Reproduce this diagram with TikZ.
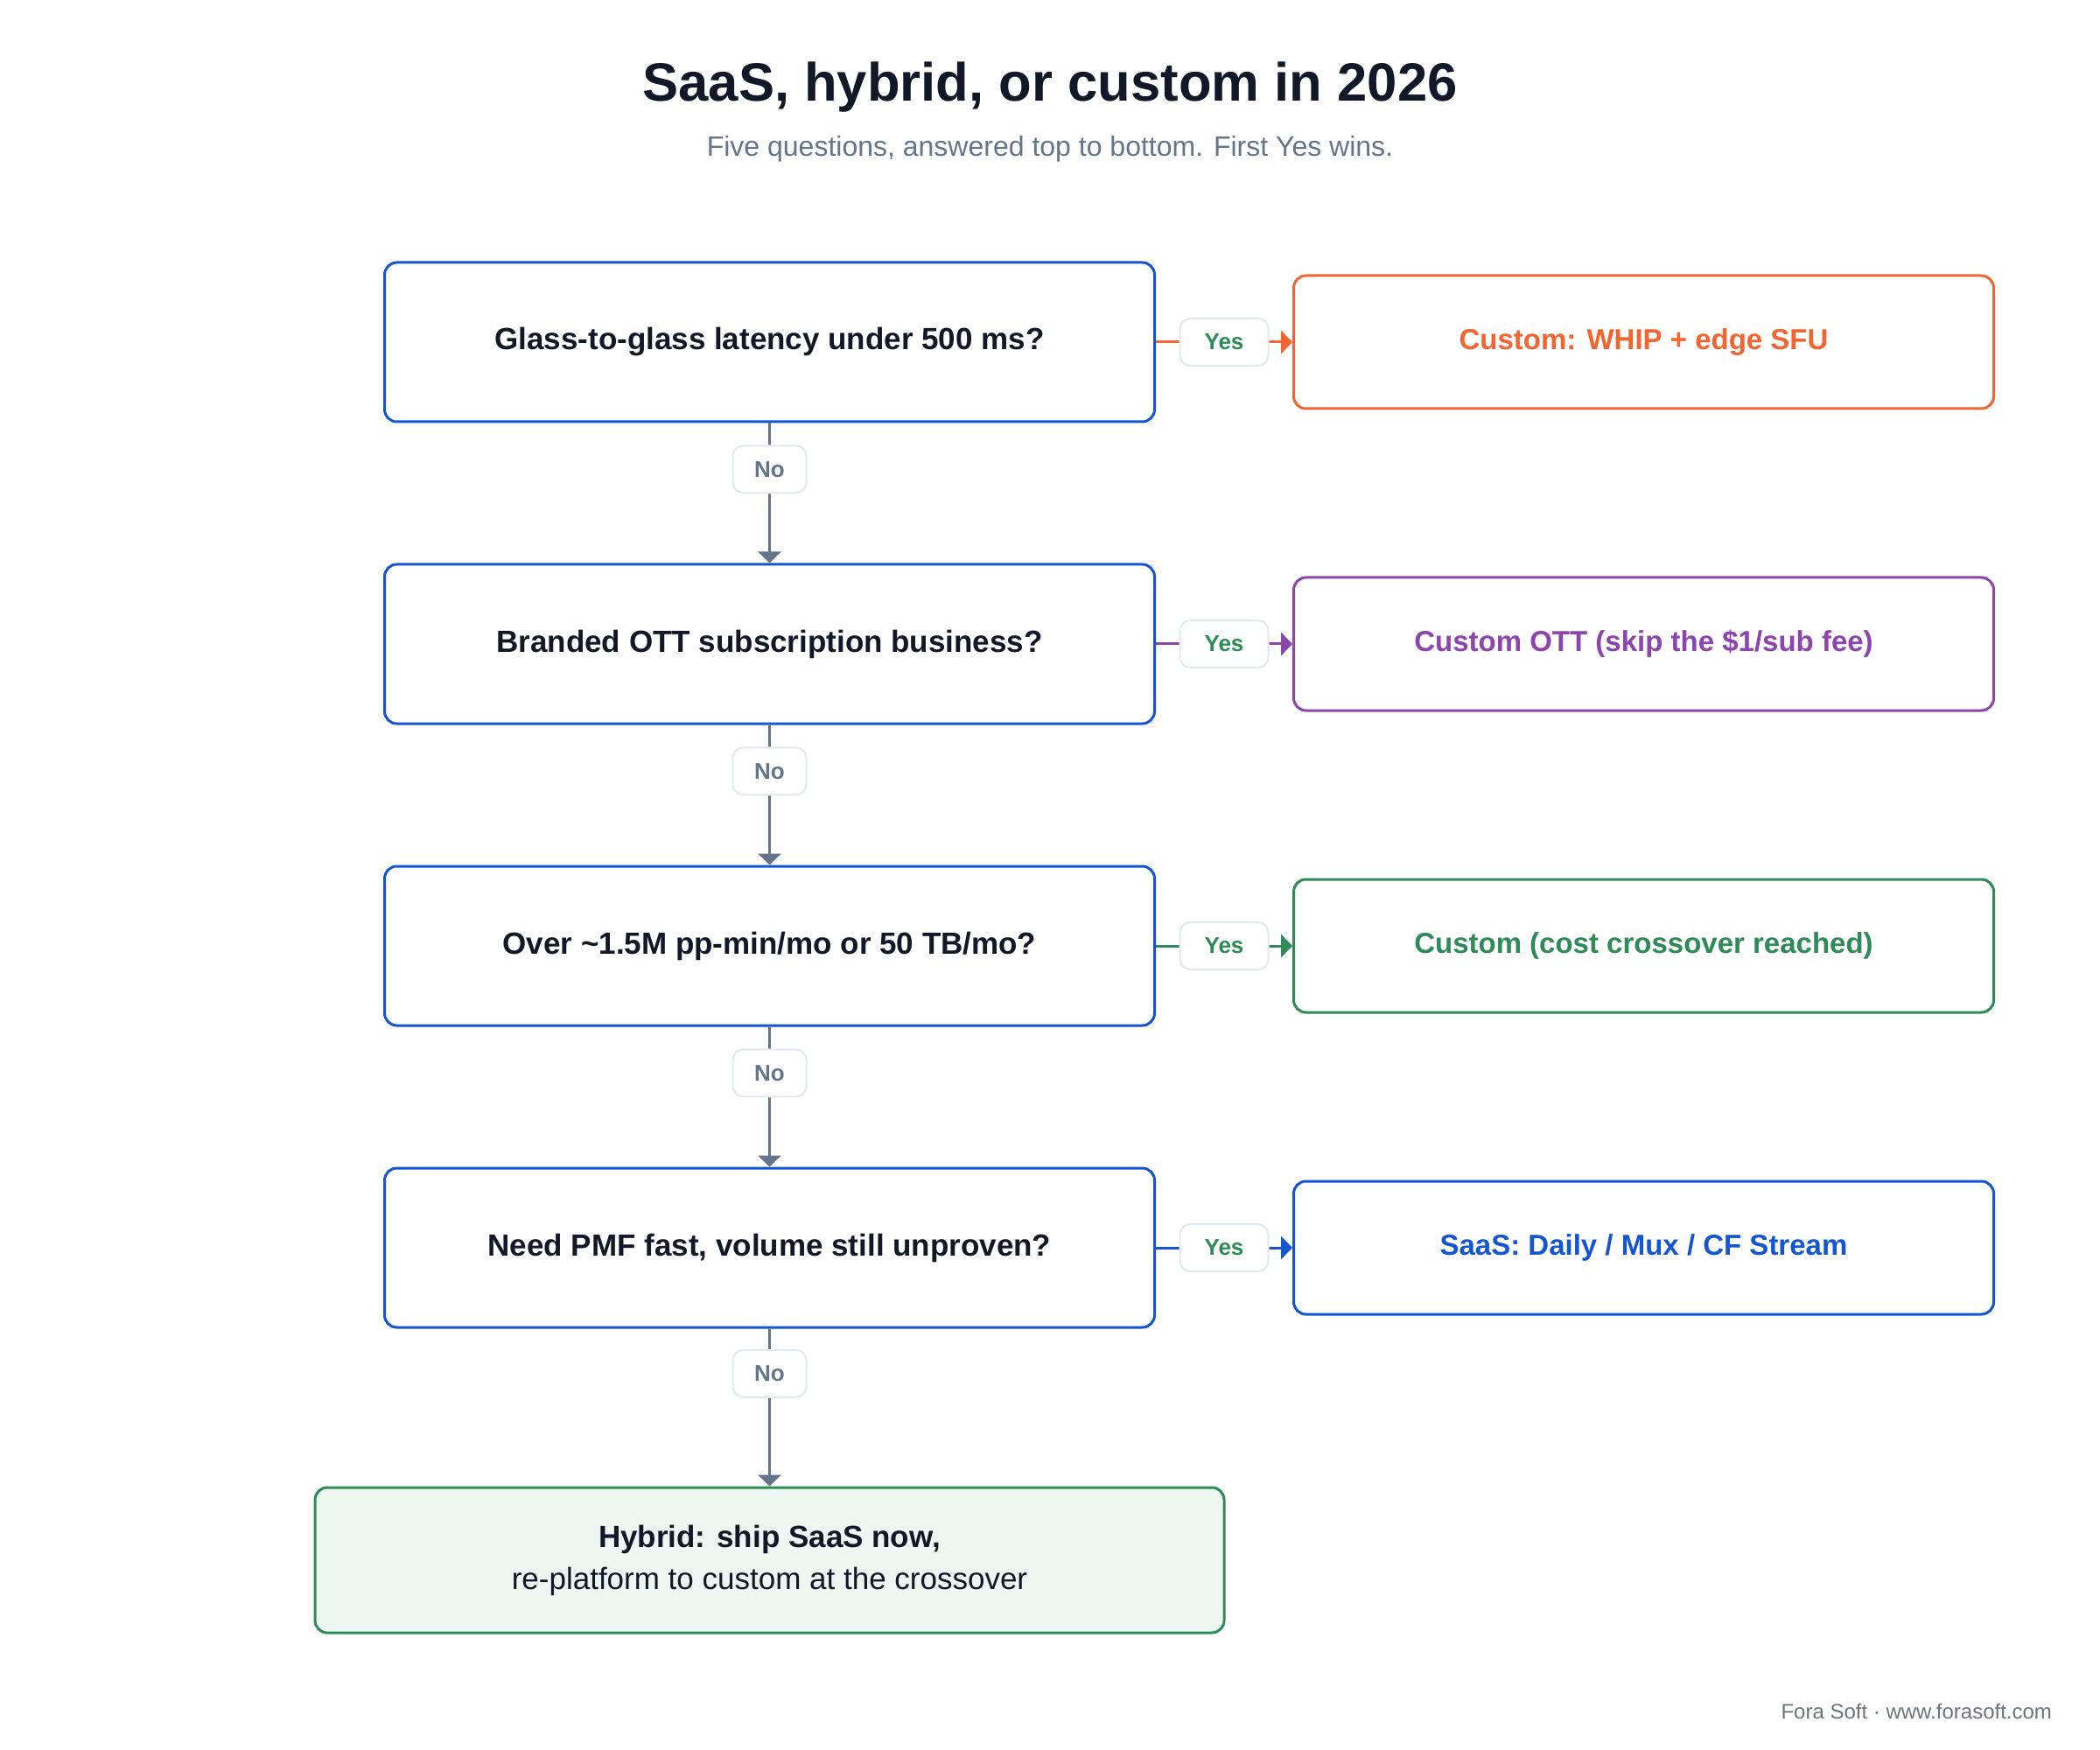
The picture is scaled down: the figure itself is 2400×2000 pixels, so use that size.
\documentclass[tikz,border=0pt]{standalone}
\usepackage{fontspec}
\setmainfont{Liberation Sans}
\usetikzlibrary{positioning,arrows.meta}

\definecolor{qblue}{HTML}{1456D2}
\definecolor{corange}{HTML}{F26430}
\definecolor{cpurple}{HTML}{8E44AD}
\definecolor{cgreen}{HTML}{2E8B57}
\definecolor{ink}{HTML}{111827}
\definecolor{slate}{HTML}{64748B}
\definecolor{pill}{HTML}{E2E8F0}
\definecolor{mint}{HTML}{EDF6F0}
\definecolor{foot}{HTML}{6B7280}

\begin{document}
\begin{tikzpicture}[x=0.5pt,y=-0.5pt,
   question/.style={draw=qblue, line width=1.5pt, rounded corners=7pt, fill=white,
      minimum width=440pt, minimum height=91pt, text=ink,
      font=\fontsize{17.5}{21}\selectfont\bfseries},
   result/.style={draw=#1, line width=1.5pt, rounded corners=7pt, fill=white,
      minimum width=400pt, minimum height=76pt, text=#1,
      font=\fontsize{16.5}{20}\selectfont\bfseries},
   hybrid/.style={draw=cgreen, line width=1.5pt, rounded corners=7pt, fill=mint,
      minimum width=519.5pt, minimum height=83pt, text=ink, align=center,
      font=\fontsize{17.5}{24}\selectfont},
   answer/.style={draw=pill, line width=1pt, rounded corners=6pt, fill=white,
      minimum height=27pt, inner xsep=0pt, font=\fontsize{13}{15}\selectfont\bfseries},
   yes/.style={answer, minimum width=50.5pt, text=cgreen},
   no/.style={answer, minimum width=42pt, text=slate},
   flow/.style={line width=1.5pt, draw=#1, -{Triangle[length=6.5pt,width=13pt]}},
   flow/.default=slate,
   node distance=80pt and 78pt]

   \useasboundingbox (0,0) rectangle (2400,2000);

   % heading
   \node[anchor=base, text=ink, font=\fontsize{30.8}{36}\selectfont\bfseries]
      (title) at (1200,116) {SaaS, hybrid, or custom in 2026} ;
   \node[anchor=base, text=slate, font=\fontsize{16}{19}\selectfont]
      (subtitle) at (1200,179) {Five questions, answered top to bottom. First Yes wins.} ;

   % questions
   \node[question] at (879.5,391)  (q1)     {Glass-to-glass latency under 500 ms?} ; %
   \node[question, below=of q1]    (q2)     {Branded OTT subscription business?} ; %
   \node[question, below=of q2]    (q3)     {Over \textasciitilde1.5M pp-min/mo or 50 TB/mo?} ; %
   \node[question, below=of q3]    (q4)     {Need PMF fast, volume still unproven?} ; %
   \node[hybrid, below=90pt of q4] (mix)    {{\bfseries Hybrid: ship SaaS now,}\\re-platform to custom at the crossover} ; %

   % outcomes
   \node[result=corange, right=of q1]  (r1) {Custom: WHIP + edge SFU} ; %
   \node[result=cpurple, right=of q2]  (r2) {Custom OTT (skip the \$1/sub fee)} ; %
   \node[result=cgreen, right=of q3]   (r3) {Custom (cost crossover reached)} ; %
   \node[result=qblue, right=of q4]    (r4) {SaaS: Daily / Mux / CF Stream} ; %

   \draw[flow] (q1) -- node[no, pos=.33] {No} (q2) ;
   \draw[flow] (q2) -- node[no, pos=.33] {No} (q3) ;
   \draw[flow] (q3) -- node[no, pos=.33] {No} (q4) ;
   \draw[flow] (q4) -- node[no, pos=.285] {No} (mix) ;

   \draw[flow=corange] (q1) -- node[yes] {Yes} (r1) ;
   \draw[flow=cpurple] (q2) -- node[yes] {Yes} (r2) ;
   \draw[flow=cgreen]  (q3) -- node[yes] {Yes} (r3) ;
   \draw[flow=qblue]   (q4) -- node[yes] {Yes} (r4) ;

   \node[anchor=base east, text=foot, font=\fontsize{12}{14}\selectfont]
      (credit) at (2352,1964) {Fora Soft · www.forasoft.com} ;

\end{tikzpicture}
\end{document}
